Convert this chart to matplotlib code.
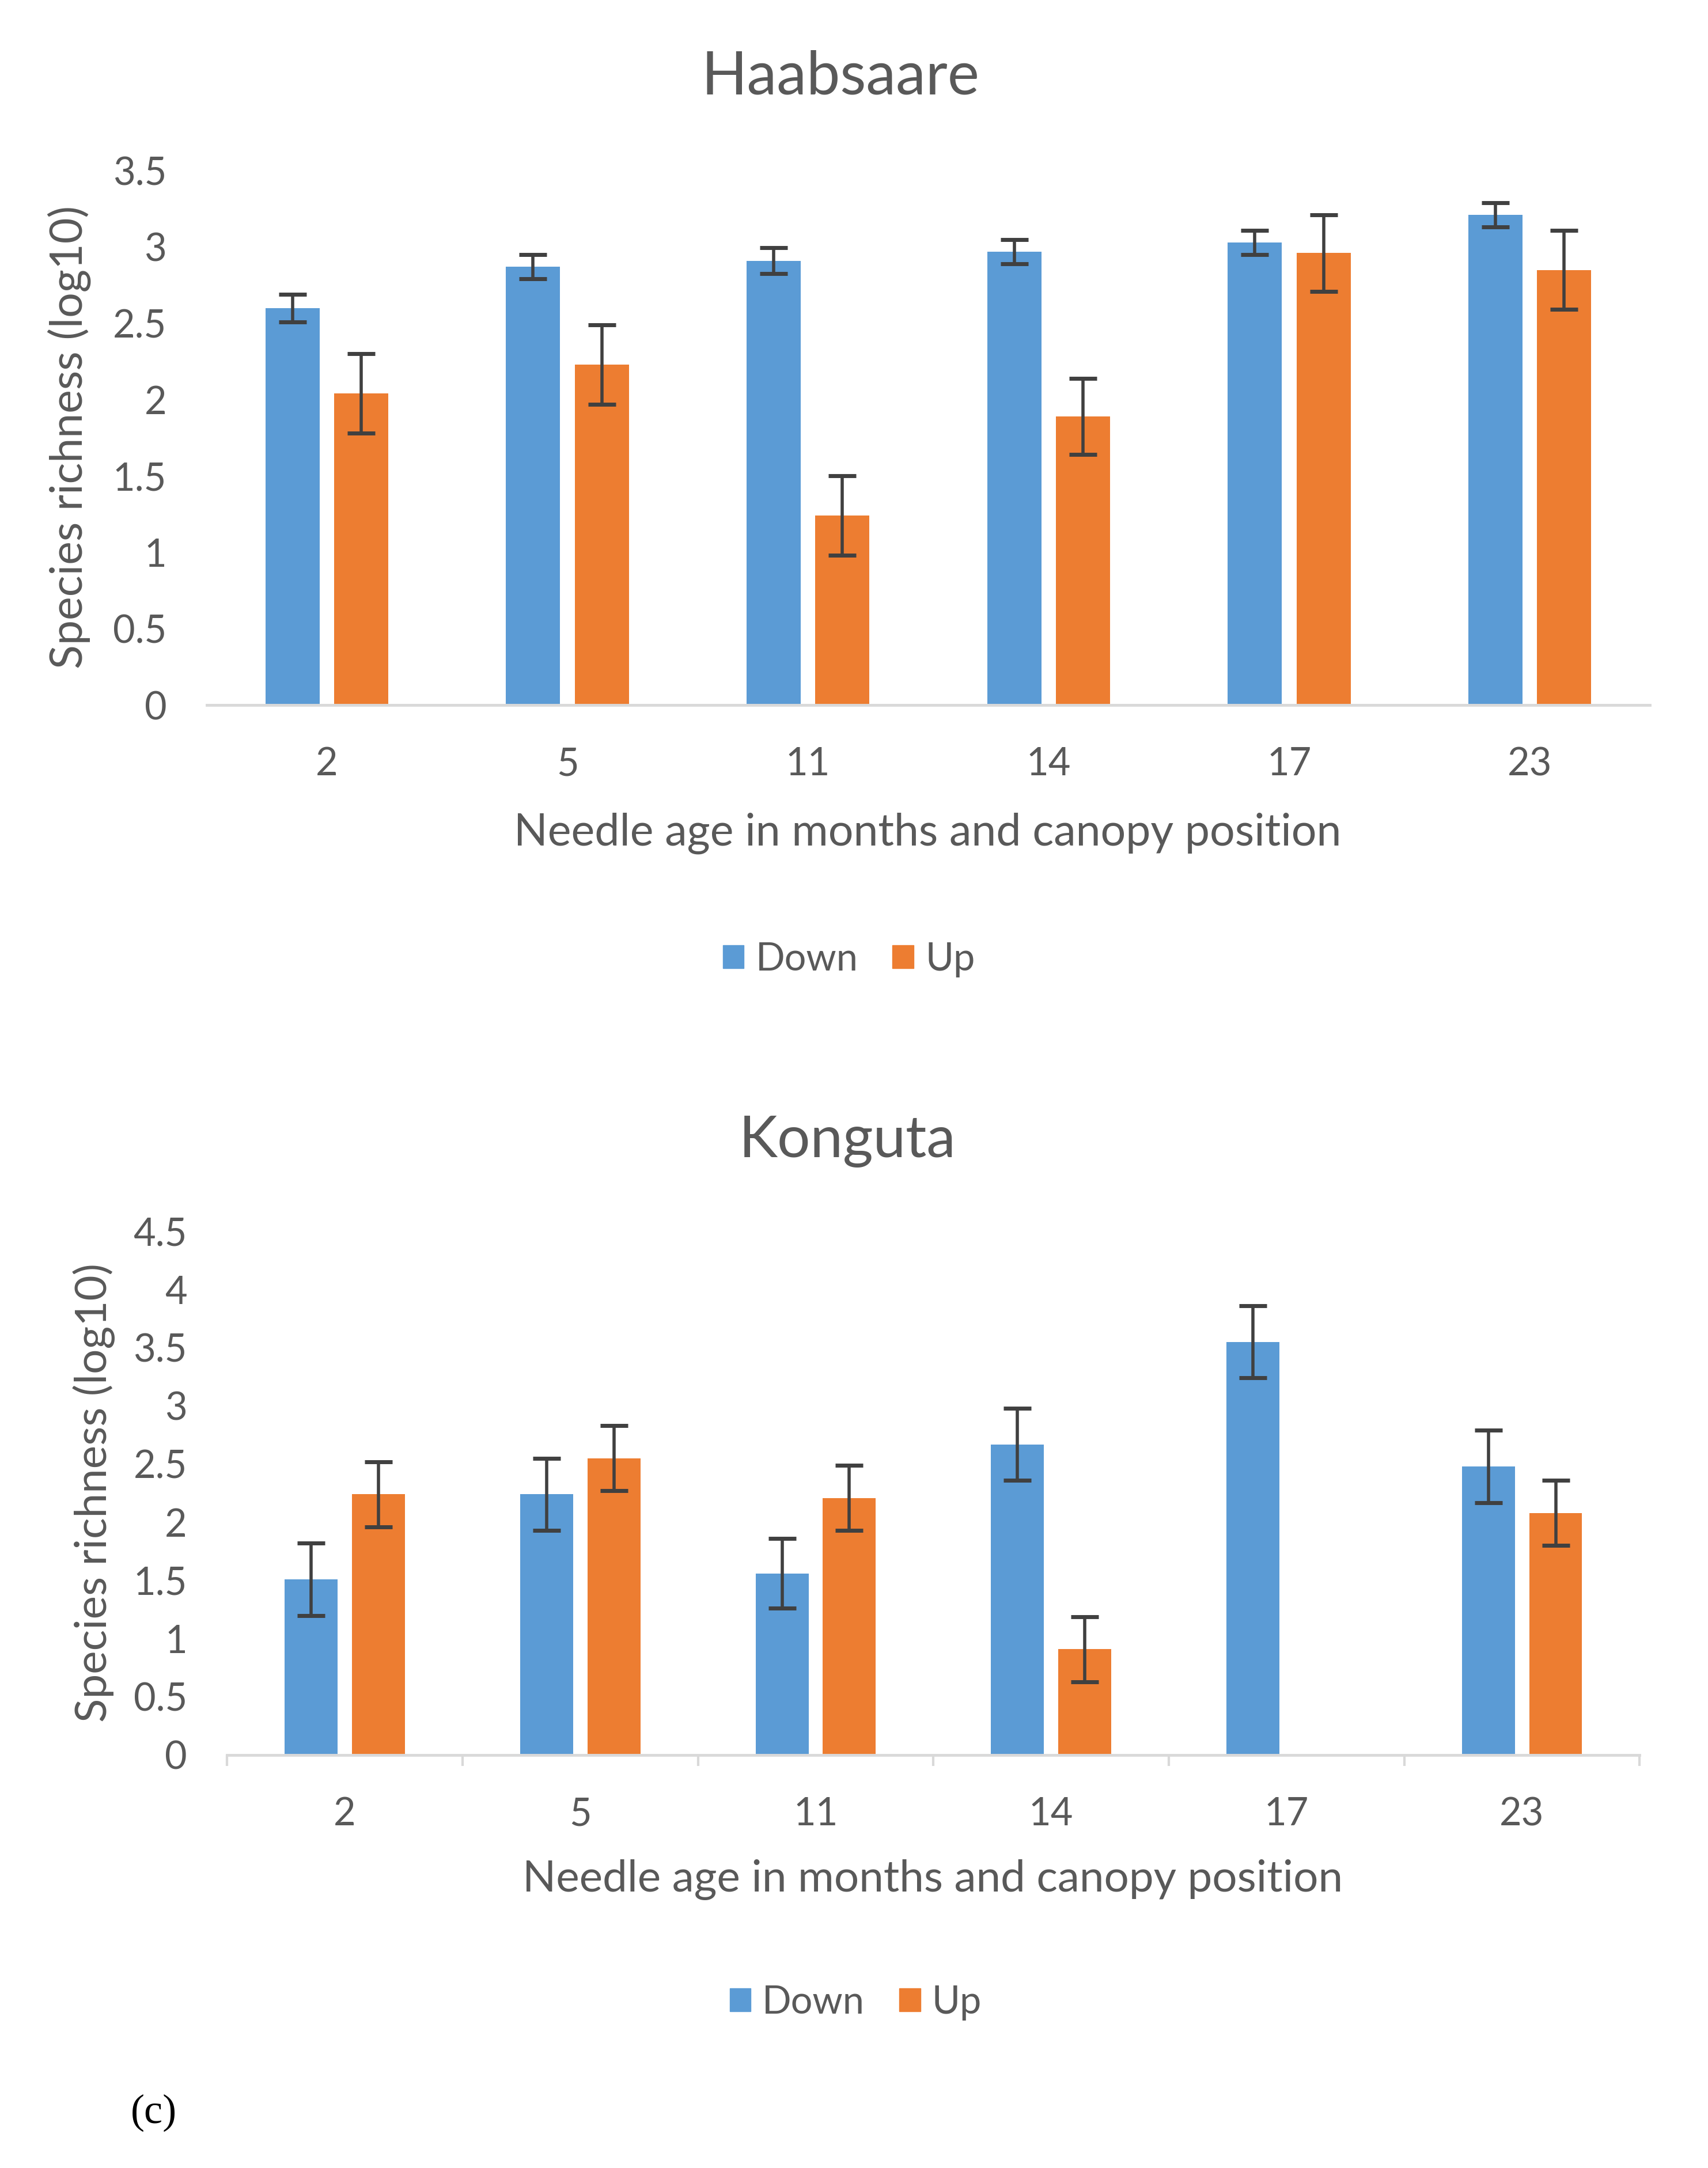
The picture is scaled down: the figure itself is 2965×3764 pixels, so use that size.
import numpy as np
import matplotlib.pyplot as plt
from matplotlib.patches import Patch

# needle age categories
ages = ['2', '5', '11', '14', '17', '23']

# Haabsaare
haab_down = [2.60, 2.87, 2.91, 2.97, 3.03, 3.21]
haab_down_err = [0.09, 0.08, 0.085, 0.08, 0.08, 0.08]
haab_up = [2.04, 2.23, 1.24, 1.89, 2.96, 2.85]
haab_up_err = [0.26, 0.26, 0.26, 0.25, 0.25, 0.26]

# Konguta (no Up sample at 17 months)
kong_down = [1.51, 2.24, 1.56, 2.67, 3.55, 2.48]
kong_down_err = [0.31, 0.31, 0.30, 0.31, 0.31, 0.31]
kong_up = [2.24, 2.55, 2.21, 0.91, 0.0, 2.08]
kong_up_err = [0.28, 0.28, 0.28, 0.28, 0.0, 0.28]

BLUE = '#5B9BD5'
ORANGE = '#ED7D31'
GREY_TXT = '#595959'
ERR = '#404040'

plt.rcParams['font.family'] = ['Lato', 'DejaVu Sans']

fig = plt.figure(figsize=(29.65, 37.64), dpi=100)


def draw_panel(ax, down, down_err, up, up_err, ymax, ticks_between):
    x = np.arange(len(ages))
    w = 0.225
    off = 0.143
    ax.bar(x - off, down, w, color=BLUE, zorder=2)
    ax.bar(x + off, up, w, color=ORANGE, zorder=2)
    ekw = dict(fmt='none', ecolor=ERR, elinewidth=4, capsize=17, capthick=5, zorder=3)
    ax.errorbar(x - off, down, yerr=down_err, **ekw)
    mask = np.array(up) > 0
    ax.errorbar((x + off)[mask], np.array(up)[mask], yerr=np.array(up_err)[mask], **ekw)

    ax.set_xlim(-0.5, len(ages) - 0.5)
    ax.set_ylim(0, ymax)
    ax.set_yticks(np.arange(0, ymax + 0.01, 0.5))
    ax.set_yticklabels([f'{v:g}' for v in np.arange(0, ymax + 0.01, 0.5)])
    for s in ['top', 'right', 'left']:
        ax.spines[s].set_visible(False)
    ax.spines['bottom'].set_color('#D9D9D9')
    ax.spines['bottom'].set_linewidth(3.5)
    ax.tick_params(axis='y', length=0, labelsize=48, labelcolor=GREY_TXT, pad=50)

    ax.set_xticks(x)
    ax.set_xticklabels(ages)
    if ticks_between:
        ax.set_xticks(np.arange(-0.5, len(ages)), minor=True)
        ax.tick_params(axis='x', which='minor', length=14, width=3, color='#D9D9D9')
    ax.tick_params(axis='x', which='major', length=0, labelsize=48, labelcolor=GREY_TXT, pad=52)


ax1 = fig.add_axes([0.121, 0.6748, 0.845, 0.2465])
draw_panel(ax1, haab_down, haab_down_err, haab_up, haab_up_err, 3.5, False)

ax2 = fig.add_axes([0.133, 0.1905, 0.827, 0.2415])
draw_panel(ax2, kong_down, kong_down_err, kong_up, kong_up_err, 4.5, True)

# titles
fig.text(0.492, 0.9645, 'Haabsaare', ha='center', va='center', fontsize=75, color=GREY_TXT)
fig.text(0.496, 0.4735, 'Konguta', ha='center', va='center', fontsize=73, color=GREY_TXT)

# axis titles
fig.text(0.543, 0.6155, 'Needle age in months and canopy position', ha='center', va='center',
         fontsize=55.5, color=GREY_TXT)
fig.text(0.546, 0.1330, 'Needle age in months and canopy position', ha='center', va='center',
         fontsize=55, color=GREY_TXT)
fig.text(0.0405, 0.7985, 'Species richness (log10)', ha='center', va='center', rotation=90,
         fontsize=55.5, color=GREY_TXT)
fig.text(0.055, 0.3115, 'Species richness (log10)', ha='center', va='center', rotation=90,
         fontsize=55, color=GREY_TXT)

# legends
handles = [Patch(color=BLUE, label='Down'), Patch(color=ORANGE, label='Up')]
for ypos, xpos in [(0.5575, 0.497), (0.0763, 0.501)]:
    fig.legend(handles=handles, loc='center', bbox_to_anchor=(xpos, ypos), ncol=2,
               frameon=False, fontsize=48, labelcolor=GREY_TXT,
               handlelength=0.55, handleheight=0.55, handletextpad=0.3, columnspacing=0.9)

fig.text(0.090, 0.0255, '(c)', ha='center', va='center', fontsize=52, color='black',
         family=['Liberation Serif', 'DejaVu Serif'])

fig.savefig('out.png', dpi=100, facecolor='white')
